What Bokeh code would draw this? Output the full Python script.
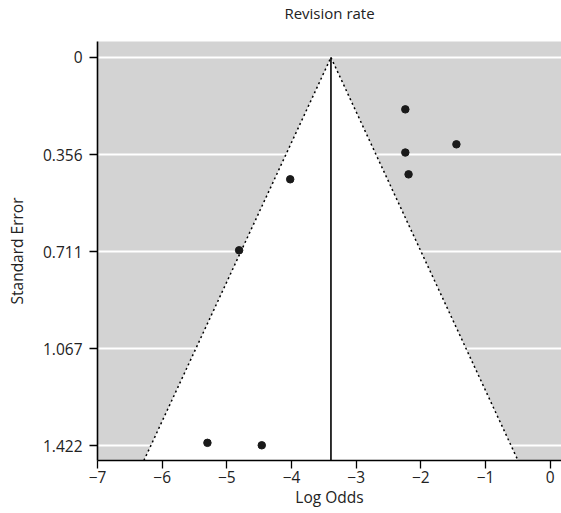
from bokeh.plotting import figure
from bokeh.models import Range1d, FixedTicker, ColumnDataSource, Title
from bokeh.embed import file_html
from bokeh.resources import INLINE

# data
log_odds = [-2.24, -1.45, -2.24, -2.19, -4.02, -4.81, -5.30, -4.46]
std_err = [0.190, 0.318, 0.348, 0.428, 0.446, 0.706, 1.411, 1.420]
pooled = -3.39
y_ticks = [0, 0.356, 0.711, 1.067, 1.422]
y_tick_labels = ["0", "0.356", "0.711", "1.067", "1.422"]
x_ticks = [-7, -6, -5, -4, -3, -2, -1, 0]
x_tick_labels = ["−7", "−6", "−5", "−4", "−3", "−2", "−1", "0"]
title_text = "Revision rate"

y_bottom = 1.4757
y_top = -0.0585
x_left = -7.0
x_right = 0.175

FONT = "Open Sans"
FS = "15.5px"

p = figure(width=561, height=513, output_backend="svg", toolbar_location=None,
           x_range=Range1d(x_left, x_right), y_range=Range1d(y_bottom, y_top),
           title=title_text)
p.min_border_left = 97
p.min_border_right = 0
p.min_border_top = 41
p.min_border_bottom = 53
p.outline_line_color = None
p.background_fill_color = "#D3D3D3"
p.border_fill_color = "white"

# spacer panel between frame and title
p.add_layout(Title(text=" ", text_font_size="1px", standoff=16), "above")

p.title.align = "center"
p.title.text_font = FONT
p.title.text_font_size = "15px"
p.title.text_font_style = "normal"
p.title.text_color = "#222222"
p.title.standoff = 0

# funnel region
lo = pooled - 1.96 * y_bottom
hi = pooled + 1.96 * y_bottom
p.patch([lo, pooled, hi], [y_bottom, 0, y_bottom], fill_color="white", line_color=None)
p.line([lo, pooled], [y_bottom, 0], line_color="black", line_dash="2 3", line_width=1.5)
p.line([pooled, hi], [0, y_bottom], line_color="black", line_dash="2 3", line_width=1.5)
p.line([pooled, pooled], [0, y_bottom], line_color="black", line_width=1.6)

src = ColumnDataSource(dict(x=log_odds, y=std_err))
p.scatter("x", "y", source=src, size=7.5, fill_color="#1a1a1a", line_color="#1a1a1a")

# grid
p.xgrid.visible = False
p.ygrid.ticker = FixedTicker(ticks=y_ticks)
p.ygrid.grid_line_color = "white"
p.ygrid.grid_line_width = 2
p.ygrid.level = "underlay"

for ax in (p.xaxis[0], p.yaxis[0]):
    ax.axis_line_width = 1.6
    ax.axis_line_color = "black"
    ax.major_tick_line_color = "black"
    ax.major_tick_line_width = 1.3
    ax.major_tick_in = 0
    ax.major_tick_out = 8
    ax.minor_tick_line_color = None
    ax.major_label_text_font = FONT
    ax.major_label_text_font_size = FS
    ax.major_label_text_color = "#222222"
    ax.axis_label_text_font = FONT
    ax.axis_label_text_font_size = "15.5px"
    ax.axis_label_text_font_style = "normal"
    ax.axis_label_text_color = "#222222"

p.xaxis.ticker = FixedTicker(ticks=x_ticks)
p.xaxis.major_label_overrides = {t: l for t, l in zip(x_ticks, x_tick_labels)}
p.xaxis.axis_label = "Log Odds"
p.xaxis.major_label_standoff = 2
p.xaxis.axis_label_standoff = 0

p.yaxis.ticker = FixedTicker(ticks=y_ticks)
p.yaxis.major_label_overrides = {t: l for t, l in zip(y_ticks, y_tick_labels)}
p.yaxis.axis_label = "Standard Error"
p.yaxis.major_label_standoff = 7
p.yaxis.axis_label_standoff = 12

open("out.html", "w").write(file_html(p, INLINE))
